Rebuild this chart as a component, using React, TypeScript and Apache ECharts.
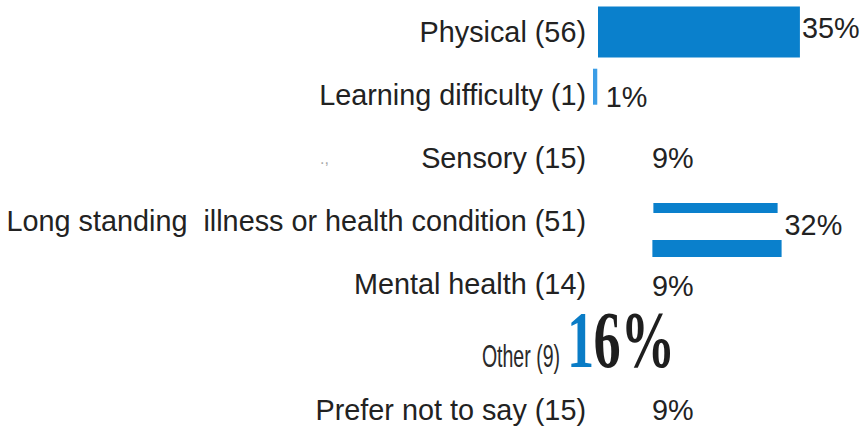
import React, { useEffect, useRef } from 'react';
import * as echarts from 'echarts';

const categories = [
  'Physical (56)',
  'Learning difficulty (1)',
  'Sensory (15)',
  'Long standing  illness or health condition (51)',
  'Mental health (14)',
  'Other (9)',
  'Prefer not to say (15)',
];
const percentages = [35, 1, 9, 32, 9, 16, 9];
const xMax = 45;

const BLUE = '#0a80cc';
const LIGHT_BLUE = '#3b9de6';
const TEXT = '#222222';
const FONT = '"Liberation Sans", Arial, sans-serif';

export default function App() {
  const ref = useRef<HTMLDivElement>(null);

  useEffect(() => {
    document.body.style.margin = '0';
    const chart = echarts.init(ref.current!, undefined, { renderer: 'svg' });
    const labelDy = [-4, 2, 0, 4, 2, 0, 0];

    const renderItem = (params: any, api: any) => {
      const i = params.dataIndex;
      const v = api.value(0);
      const [x0, yc] = api.coord([0, i]);
      const [x1] = api.coord([v, i]);
      const w = x1 - x0;
      const children: any[] = [];

      if (i === 0) {
        children.push({ type: 'rect', shape: { x: x0, y: yc - 25, width: w, height: 51 }, style: { fill: BLUE } });
      } else if (i === 1) {
        children.push({ type: 'rect', shape: { x: x0 - 5, y: yc - 26, width: Math.max(w - 1.5, 3), height: 36 }, style: { fill: LIGHT_BLUE } });
      } else if (i === 3) {
        const s = x0 + w * 0.3;
        children.push({ type: 'rect', shape: { x: s, y: yc - 18, width: x1 - 5 - s, height: 10 }, style: { fill: BLUE } });
        children.push({ type: 'rect', shape: { x: s - 1, y: yc + 19, width: x1 - s, height: 17 }, style: { fill: BLUE } });
      }

      if (i === 5) {
        children.push({
          type: 'text',
          x: x0 - 38,
          y: yc + 9,
          scaleX: 0.63,
          style: { text: categories[i], fill: '#2a2a2a', fontSize: 31, fontFamily: FONT, align: 'right', verticalAlign: 'middle' },
        });
        const pct = String(v) + '%';
        children.push({
          type: 'text',
          x: x0 - 31,
          y: yc - 7,
          scaleX: 0.68,
          style: { text: pct.slice(0, 1), fill: '#0a7cc6', fontSize: 80, fontWeight: 'bold', fontFamily: '"Liberation Serif", "Times New Roman", serif', align: 'left', verticalAlign: 'middle' },
        });
        children.push({
          type: 'text',
          x: x0 - 31 + 26.5,
          y: yc - 7,
          scaleX: 0.68,
          style: { text: pct.slice(1), fill: '#1e1e1e', fontSize: 80, fontWeight: 'bold', fontFamily: '"Liberation Serif", "Times New Roman", serif', align: 'left', verticalAlign: 'middle' },
        });
      } else {
        children.push({
          type: 'text',
          x: x1 + 2,
          y: yc + labelDy[i],
          style: { text: v + '%', fill: TEXT, fontSize: 28.8, fontFamily: FONT, align: 'left', verticalAlign: 'middle' },
        });
      }
      return { type: 'group', children };
    };

    chart.setOption({
      animation: false,
      backgroundColor: '#ffffff',
      grid: { left: 598, right: 7.4, top: -3, bottom: -2.5, containLabel: false },
      xAxis: { type: 'value', min: 0, max: xMax, show: false },
      yAxis: {
        type: 'category',
        data: categories,
        inverse: true,
        axisLine: { show: false },
        axisTick: { show: false },
        splitLine: { show: false },
        axisLabel: {
          margin: 12,
          fontSize: 28.8,
          color: TEXT,
          fontFamily: FONT,
          formatter: (val: string, idx: number) => (idx === 5 ? '' : val),
        },
      },
      graphic: [
        { type: 'text', left: 320, top: 150, style: { text: '.,', fill: '#aaaaaa', fontSize: 16, fontFamily: FONT } },
      ],
      series: [
        {
          type: 'custom',
          renderItem,
          encode: { x: 0, y: 1 },
          data: percentages.map((v, i) => [v, i]),
        },
      ],
    });
    return () => chart.dispose();
  }, []);

  return <div ref={ref} style={{ position: 'fixed', left: 0, top: 0, width: 865, height: 442 }} />;
}
